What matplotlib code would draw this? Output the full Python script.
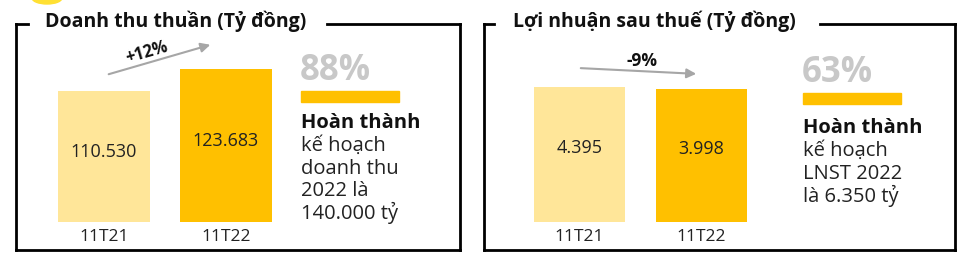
import matplotlib
matplotlib.use("Agg")
import matplotlib.pyplot as plt
from matplotlib.patches import Ellipse, Rectangle
import numpy as np

# data
categories = ["11T21", "11T22"]
revenue = [110530, 123683]       # ty dong
profit = [4395, 3998]            # ty dong
revenue_growth = "+12%"
profit_growth = "-9%"
revenue_done = "88%"
profit_done = "63%"
revenue_plan = ["kế hoạch", "doanh thu", "2022 là", "140.000 tỷ"]
profit_plan = ["kế hoạch", "LNST 2022", "là 6.350 tỷ"]

W, H = 966, 257
LIGHT = "#FFE699"
GOLD = "#FFC000"
GREY = "#C8C8C8"
FONT = "Open Sans"

plt.rcParams["font.family"] = [FONT, "DejaVu Sans"]

fig = plt.figure(figsize=(W / 100, H / 100), dpi=100)
fig.patch.set_facecolor("white")

# overlay in pixel coordinates for frames and notes
ov = fig.add_axes([0, 0, 1, 1])
ov.set_xlim(0, W)
ov.set_ylim(H, 0)
ov.axis("off")


def fmt(v):
    return f"{v:,}".replace(",", ".")


def frame(x0, x1, gap0, gap1, y0=24, y1=250):
    kw = dict(color="black", lw=2, solid_capstyle="projecting")
    ov.plot([x0, gap0], [y0, y0], **kw)
    ov.plot([gap1, x1], [y0, y0], **kw)
    ov.plot([x0, x0], [y0, y1], **kw)
    ov.plot([x1, x1], [y0, y1], **kw)
    ov.plot([x0, x1], [y1, y1], **kw)


def bars(left_px, vals, base, top, label_off):
    # axes spans pixel y 30..222, x width 244 px; values shown in thousands
    ax = fig.add_axes([left_px / W, (H - 222) / H, 244 / W, 192 / H])
    ax.set_zorder(2)
    ax.patch.set_alpha(0)
    x = np.arange(len(vals))
    v = np.array(vals, dtype=float) / 1000
    ax.bar(x, v - base, bottom=base, width=0.75, color=[LIGHT, GOLD])
    ax.set_xlim(-0.5, 1.5)
    ax.set_ylim(base, top)
    for i, val in enumerate(vals):
        ax.annotate(fmt(val), (i, (base + v[i]) / 2), xytext=(0, label_off),
                    textcoords="offset points", ha="center", va="center",
                    fontsize=13, color="#222222")
    ax.set_xticks(x, categories, fontsize=12.5, color="#222222")
    ax.tick_params(length=0, pad=5)
    ax.set_yticks([])
    for s in ax.spines.values():
        s.set_visible(False)
    return ax


def notes(x, y_pct, y_bar, y_bold, done, plan, step):
    ov.text(x - 1, y_pct, done, fontsize=25, fontweight="bold", color=GREY,
            va="baseline", ha="left")
    ov.add_patch(Rectangle((x, y_bar), 98, 10.5, color=GOLD))
    ov.text(x, y_bold, "Hoàn thành", fontsize=14.5, fontweight="bold",
            va="baseline", color="#111111")
    for k, line in enumerate(plan):
        ov.text(x, y_bold + 23 + k * step, line, fontsize=14.5,
                va="baseline", color="#222222")


# small yellow blob at the top left corner
ov.add_patch(Ellipse((47, -2), 30, 12, color="#FFE033", zorder=1))

# left panel
frame(16, 460, 28, 327)
ov.text(45, 26.5, "Doanh thu thuần (Tỷ đồng)", fontsize=14, fontweight="bold",
        va="baseline", ha="left", color="#111111")
bars(43, revenue, 32.2, 147.0, 3)
ov.annotate("", xy=(213, 44), xytext=(106, 75),
            arrowprops=dict(arrowstyle="-|>", color="#A6A6A6", lw=1.5,
                            mutation_scale=14))
ov.text(147, 52, revenue_growth, rotation=16, fontsize=12, fontweight="bold",
        ha="center", va="center", color="#111111")
notes(301, 80, 91, 128, revenue_done, revenue_plan, 22.5)

# right panel
frame(484, 955, 494, 820)
ov.text(513, 26.5, "Lợi nhuận sau thuế (Tỷ đồng)", fontsize=14, fontweight="bold",
        va="baseline", ha="left", color="#111111")
bars(518.5, profit, -22.4, 15.7, 5)
ov.annotate("", xy=(699, 74), xytext=(578, 68),
            arrowprops=dict(arrowstyle="-|>", color="#A6A6A6", lw=1.5,
                            mutation_scale=14))
ov.text(642, 61, profit_growth, fontsize=12.5, fontweight="bold",
        ha="center", va="center", color="#111111")
notes(803, 82, 93, 133, profit_done, profit_plan, 23)

fig.savefig("out.png", dpi=100)
